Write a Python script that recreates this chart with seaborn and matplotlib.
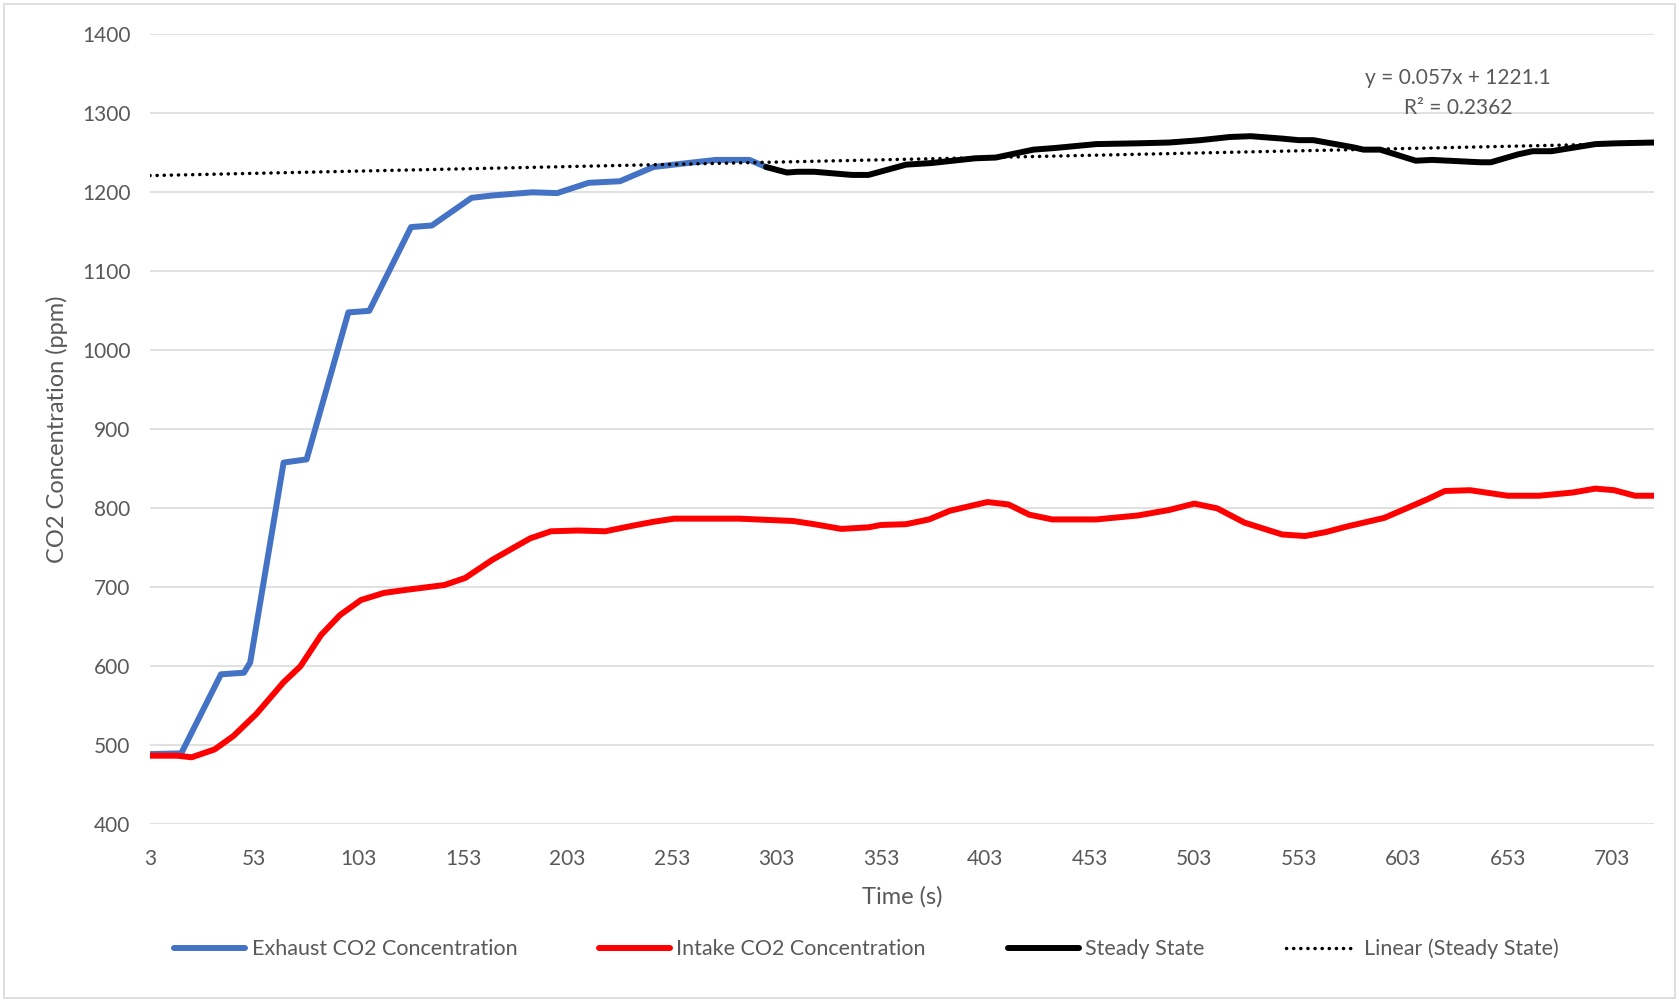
import matplotlib
matplotlib.use("Agg")
import matplotlib.pyplot as plt
import matplotlib.patches as mpatches
import numpy as np
import pandas as pd
import seaborn as sns

# Exhaust CO2 concentration (ppm) during warm-up
exhaust_time = [3, 18, 37, 48, 51, 67, 78, 98, 108, 128, 138, 157, 167, 186,
                198, 213, 228, 244, 257, 274, 290, 298]
exhaust_ppm = [489, 490, 590, 592, 605, 858, 862, 1048, 1050, 1156, 1158, 1193,
               1196, 1200, 1199, 1212, 1214, 1232, 1236, 1241, 1241, 1232]

# Intake CO2 concentration (ppm)
intake_time = [3, 16, 23, 34, 43, 54, 67, 75, 85, 94, 104, 115, 126, 144, 154,
               167, 185, 195, 208, 221, 234, 244, 254, 285, 311, 321, 334, 347,
               353, 365, 376, 386, 404, 414, 424, 435, 456, 476, 491, 503, 514,
               527, 545, 556, 566, 576, 594, 615, 623, 635, 653, 668, 684, 695,
               704, 714, 723]
intake_ppm = [487, 487, 485, 495, 512, 540, 580, 600, 640, 665, 684, 693, 697,
              703, 712, 735, 762, 771, 772, 771, 778, 783, 787, 787, 784, 780,
              774, 776, 779, 780, 786, 797, 808, 805, 792, 786, 786, 791, 798,
              806, 800, 782, 767, 765, 770, 777, 788, 812, 822, 823, 816, 816,
              820, 825, 823, 816, 816]

# Steady-state exhaust readings
steady_time = [298, 308, 313, 321, 339, 347, 365, 377, 398, 408, 426, 436, 456,
               476, 491, 506, 520, 530, 545, 553, 560, 579, 584, 592, 609, 617,
               640, 645, 658, 665, 674, 695, 705, 723]
steady_ppm = [1232, 1225, 1226, 1226, 1222, 1222, 1235, 1237, 1243, 1244, 1254,
              1256, 1261, 1262, 1263, 1266, 1270, 1271, 1268, 1266, 1266, 1257,
              1254, 1254, 1240, 1241, 1238, 1238, 1248, 1252, 1252, 1261, 1262,
              1263]

# Linear trendline of the steady-state series (x = category index)
trend_slope = 0.057
trend_intercept = 1221.1
trend_r2 = 0.2362
first_time = 3
last_time = 723

x_ticks = list(range(3, 704, 50))
y_ticks = list(range(400, 1401, 100))

sns.set_theme(style="white")
plt.rcParams["font.family"] = ["Lato", "DejaVu Sans"]

GRAY_TXT = "#595959"
BLUE = "#4472C4"
RED = "#FF0000"

fig = plt.figure(figsize=(16.79, 10.02), dpi=100)
ax = fig.add_axes([0.0893, 0.1772, 0.8957, 0.7886])

exhaust = pd.DataFrame({"t": exhaust_time, "ppm": exhaust_ppm})
intake = pd.DataFrame({"t": intake_time, "ppm": intake_ppm})
steady = pd.DataFrame({"t": steady_time, "ppm": steady_ppm})
trend_t = np.arange(first_time, last_time + 1)
trend = pd.DataFrame({"t": trend_t,
                      "ppm": trend_slope * (trend_t - first_time + 1) + trend_intercept})

lw = 4.3
dot_lw = 2.5
dot_style = (0, (0.05, 2.0))
sns.lineplot(data=exhaust, x="t", y="ppm", ax=ax, color=BLUE, lw=lw,
             solid_joinstyle="round", solid_capstyle="round", zorder=3)
sns.lineplot(data=intake, x="t", y="ppm", ax=ax, color=RED, lw=lw,
             solid_joinstyle="round", solid_capstyle="round", zorder=3)
sns.lineplot(data=steady, x="t", y="ppm", ax=ax, color="black", lw=lw,
             solid_joinstyle="round", solid_capstyle="round", zorder=4)
sns.lineplot(data=trend, x="t", y="ppm", ax=ax, color="black", lw=dot_lw,
             linestyle=dot_style, dash_capstyle="round", zorder=5)

ax.set_xlim(first_time, last_time)
ax.set_ylim(400, 1400)
ax.set_xticks(x_ticks)
ax.set_yticks(y_ticks)
ax.tick_params(axis="both", length=0, labelsize=15, labelcolor=GRAY_TXT)
ax.tick_params(axis="x", pad=18)
ax.tick_params(axis="y", pad=14)
ax.grid(axis="y", color="#D9D9D9", lw=1.1, zorder=0)
ax.grid(axis="x", visible=False)
for s in ax.spines.values():
    s.set_visible(False)

ax.set_xlabel("Time (s)", fontsize=17, color=GRAY_TXT, labelpad=12)
ax.set_ylabel("CO2 Concentration (ppm)", fontsize=17, color=GRAY_TXT, labelpad=10)

fig.text(1458 / 1679, 1 - 78 / 1002, "y = 0.057x + 1221.1", ha="center", va="center",
         fontsize=15, color=GRAY_TXT)
fig.text(1458 / 1679, 1 - 108 / 1002, f"R² = {trend_r2}", ha="center", va="center",
         fontsize=15, color=GRAY_TXT)

handles = [
    plt.Line2D([], [], color=BLUE, lw=lw, solid_capstyle="round"),
    plt.Line2D([], [], color=RED, lw=lw, solid_capstyle="round"),
    plt.Line2D([], [], color="black", lw=lw, solid_capstyle="round"),
    plt.Line2D([], [], color="black", lw=dot_lw, linestyle=dot_style, dash_capstyle="round"),
]
labels = ["Exhaust CO2 Concentration", "Intake CO2 Concentration", "Steady State",
          "Linear (Steady State)"]
leg = fig.legend(handles, labels, loc="center", bbox_to_anchor=(0.516, 1 - 949 / 1002),
                 ncol=4, frameon=False, fontsize=15.5, handlelength=3.3,
                 handletextpad=0.3, columnspacing=3.8)
for t in leg.get_texts():
    t.set_color(GRAY_TXT)

fig.patches.append(mpatches.Rectangle((4 / 1679, 4 / 1002), 1 - 8 / 1679, 1 - 8 / 1002,
                                      transform=fig.transFigure, fill=False,
                                      edgecolor="#D9D9D9", lw=1.2))

fig.savefig("out.png", dpi=100, facecolor="white")
